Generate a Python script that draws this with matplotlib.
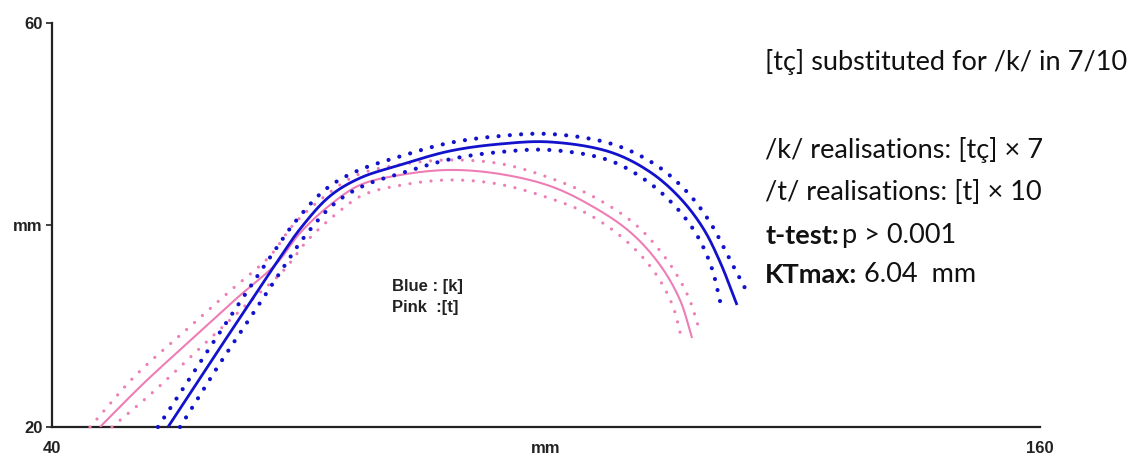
import numpy as np
import matplotlib
matplotlib.use("Agg")
import matplotlib.pyplot as plt

# ---------------- data ----------------
blue_x = [54.09, 59.19, 63.69, 67.33, 70.12, 73.77, 77.41, 82.27, 88.34, 94.42,
          100.49, 107.78, 112.64, 116.28, 119.07, 121.14, 123.20]
blue_y = [20.0, 26.34, 31.88, 36.34, 39.60, 42.87, 44.65, 45.94, 47.33, 48.02,
          48.22, 47.23, 45.25, 42.67, 39.70, 36.34, 32.08]

blue_up_x = [52.87, 58.34, 62.84, 66.60, 69.52, 73.28, 77.05, 82.03, 88.22, 94.42,
             100.49, 108.03, 113.36, 117.25, 120.05, 122.23, 124.42]
blue_up_y = [20.0, 26.84, 32.38, 36.93, 40.30, 43.57, 45.35, 46.73, 48.12, 48.81,
             49.01, 48.02, 45.94, 43.17, 40.10, 36.73, 33.37]

blue_lo_x = [55.55, 60.04, 64.54, 68.06, 70.73, 74.25, 77.77, 82.51, 88.46, 94.42,
             100.49, 107.53, 111.90, 115.31, 118.10, 120.05, 121.38]
blue_lo_y = [20.0, 25.85, 31.39, 35.75, 38.91, 42.08, 43.86, 45.15, 46.53, 47.23,
             47.43, 46.44, 44.55, 42.18, 39.31, 35.94, 31.58]

pink_x = [45.83, 51.05, 57.13, 62.47, 67.33, 70.12, 73.77, 77.41, 82.27, 88.34,
          94.42, 100.49, 105.35, 110.21, 113.85, 116.28, 117.74]
pink_y = [20.0, 24.26, 28.81, 32.77, 36.24, 39.21, 41.98, 43.96, 44.95, 45.45,
          45.05, 43.86, 41.98, 39.31, 36.04, 32.57, 28.81]

pink_up_x = [44.62, 50.08, 56.28, 61.62, 66.48, 69.27, 73.16, 77.05, 82.03, 88.34,
             94.66, 100.85, 105.83, 110.93, 114.70, 117.25, 118.71]
pink_up_y = [20.0, 25.05, 29.60, 33.47, 36.93, 40.0, 42.87, 44.95, 45.94, 46.44,
             46.04, 44.55, 42.77, 40.0, 36.53, 32.97, 29.41]

pink_lo_x = [47.29, 52.15, 58.10, 63.44, 68.18, 70.97, 74.50, 77.77, 82.51, 88.34,
             94.17, 100.0, 104.86, 109.48, 113.0, 115.31, 116.52]
pink_lo_y = [20.0, 23.37, 27.92, 31.98, 35.54, 38.42, 41.09, 42.97, 43.96, 44.46,
             44.06, 42.77, 41.19, 38.61, 35.54, 32.18, 28.61]

x_ticks = [40, 100, 160]
x_tick_labels = ["40", "mm", "160"]
y_ticks = [20, 40, 60]
y_tick_labels = ["20", "mm", "60"]

BLUE = "#1212cc"
PINK = "#ee7db6"


def smooth(ax, xs, ys, n=16):
    """Centripetal Catmull-Rom through the read points, in display space (drawing only)."""
    pts = ax.transData.transform(np.column_stack([xs, ys]).astype(float))
    p = np.vstack([2 * pts[0] - pts[1], pts, 2 * pts[-1] - pts[-2]])
    out = []
    for i in range(1, len(p) - 2):
        P0, P1, P2, P3 = p[i - 1], p[i], p[i + 1], p[i + 2]
        t0 = 0.0
        t1 = t0 + np.linalg.norm(P1 - P0) ** 0.5
        t2 = t1 + np.linalg.norm(P2 - P1) ** 0.5
        t3 = t2 + np.linalg.norm(P3 - P2) ** 0.5
        t = np.linspace(t1, t2, n, endpoint=False)[:, None]
        A1 = (t1 - t) / (t1 - t0) * P0 + (t - t0) / (t1 - t0) * P1
        A2 = (t2 - t) / (t2 - t1) * P1 + (t - t1) / (t2 - t1) * P2
        A3 = (t3 - t) / (t3 - t2) * P2 + (t - t2) / (t3 - t2) * P3
        B1 = (t2 - t) / (t2 - t0) * A1 + (t - t0) / (t2 - t0) * A2
        B2 = (t3 - t) / (t3 - t1) * A2 + (t - t1) / (t3 - t1) * A3
        C = (t2 - t) / (t2 - t1) * B1 + (t - t1) / (t2 - t1) * B2
        out.append(C)
    out.append(p[-2][None, :])
    out = ax.transData.inverted().transform(np.vstack(out))
    return out[:, 0], out[:, 1]


fig = plt.figure(figsize=(11.47, 4.57), dpi=100)
ax = fig.add_axes([52 / 1147, 30 / 457, (1040 - 52) / 1147, (427 - 23) / 457])
ax.set_xlim(40, 160)
ax.set_ylim(20, 60)

# dotted bands
for xs, ys in [(blue_up_x, blue_up_y), (blue_lo_x, blue_lo_y)]:
    sx, sy = smooth(ax, xs, ys)
    ax.plot(sx, sy, color=BLUE, lw=3.0, linestyle=(0, (0.01, 2.7)),
            dash_capstyle="round", clip_on=False, zorder=3)
for xs, ys in [(pink_up_x, pink_up_y), (pink_lo_x, pink_lo_y)]:
    sx, sy = smooth(ax, xs, ys)
    ax.plot(sx, sy, color=PINK, lw=2.3, linestyle=(0, (0.01, 3.3)),
            dash_capstyle="round", clip_on=False, zorder=2)

# mean curves
sx, sy = smooth(ax, pink_x, pink_y)
ax.plot(sx, sy, color=PINK, lw=1.5, solid_capstyle="butt", zorder=2)
sx, sy = smooth(ax, blue_x, blue_y)
ax.plot(sx, sy, color=BLUE, lw=2.0, solid_capstyle="butt", zorder=4)

# axes styling
for s in ["top", "right"]:
    ax.spines[s].set_visible(False)
for s in ["left", "bottom"]:
    ax.spines[s].set_linewidth(1.6)
    ax.spines[s].set_color("#222222")
    ax.spines[s].set_zorder(1)

SANS = "Liberation Sans"
ax.set_xticks(x_ticks)
ax.set_xticklabels(x_tick_labels)
ax.set_yticks(y_ticks)
ax.set_yticklabels(y_tick_labels)
ax.tick_params(axis="x", length=0, pad=10)
ax.tick_params(axis="y", length=4, width=1.2, pad=3, color="#222222")
for lab in ax.get_xticklabels() + ax.get_yticklabels():
    lab.set_fontfamily(SANS)
    lab.set_fontweight("bold")
    lab.set_fontsize(12)
    lab.set_color("#222222")

# in-plot legend text
ax.text(81.3, 33.9, "Blue : [k]", fontsize=12, fontweight="bold",
        family=SANS, color="#222222", va="center", ha="left")
ax.text(81.3, 31.8, "Pink  :[t]", fontsize=12, fontweight="bold",
        family=SANS, color="#222222", va="center", ha="left")

# right-hand annotation text
FS = 19.5
fam = ["Lato", "DejaVu Sans"]
tx = 765 / 1147
col = "#111111"
fig.text(tx, 1 - 62 / 457, "[tç] substituted for /k/ in 7/10", fontsize=FS,
         family=fam, va="center", ha="left", color=col)
fig.text(tx, 1 - 150 / 457, "/k/ realisations: [tç] × 7", fontsize=FS,
         family=fam, va="center", ha="left", color=col)
fig.text(tx, 1 - 192 / 457, "/t/ realisations: [t] × 10", fontsize=FS,
         family=fam, va="center", ha="left", color=col)
b1 = fig.text(tx, 1 - 236 / 457, "t-test:", fontsize=FS, fontweight="bold",
              family=fam, va="center", ha="left", color=col)
ax.annotate("p > 0.001", xy=(1, 0), xycoords=b1, xytext=(2, 0),
            textcoords="offset points", va="bottom", ha="left",
            fontsize=FS, family=fam, color=col, annotation_clip=False)
b2 = fig.text(tx, 1 - 275 / 457, "KTmax:", fontsize=FS, fontweight="bold",
              family=fam, va="center", ha="left", color=col)
ax.annotate("6.04  mm", xy=(1, 0), xycoords=b2, xytext=(5, 0),
            textcoords="offset points", va="bottom", ha="left",
            fontsize=FS, family=fam, color=col, annotation_clip=False)

fig.savefig("out.png", dpi=100)
